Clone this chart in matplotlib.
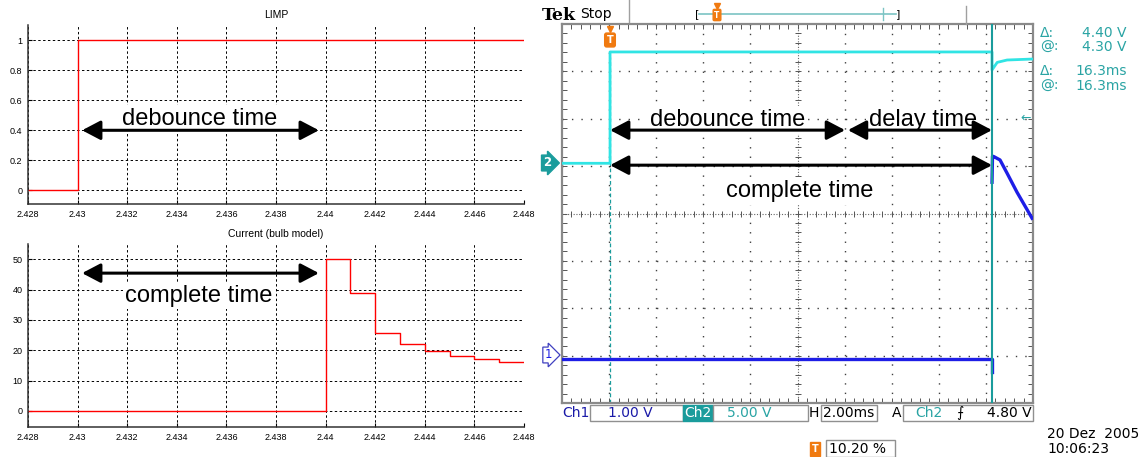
import numpy as np
import matplotlib
matplotlib.use("Agg")
import matplotlib.pyplot as plt
from matplotlib.patches import Rectangle, ArrowStyle

# ---------------------------------------------------------------------------
# Simulation (left): LIMP input and lamp current (bulb model)
# ---------------------------------------------------------------------------
x_ticks = [2.428, 2.430, 2.432, 2.434, 2.436, 2.438, 2.440, 2.442, 2.444, 2.446, 2.448]
x_labels = ["2.428", "2.43", "2.432", "2.434", "2.436", "2.438", "2.44",
            "2.442", "2.444", "2.446", "2.448"]

limp_t = [2.428, 2.430, 2.448]
limp_v = [0, 1, 1]
limp_yticks = [0, 0.2, 0.4, 0.6, 0.8, 1]
limp_ylabels = ["0", "0.2", "0.4", "0.6", "0.8", "1"]

cur_t = [2.428, 2.440, 2.441, 2.442, 2.443, 2.444, 2.445, 2.446, 2.447, 2.448]
cur_v = [0, 50, 39.0, 25.7, 21.9, 19.7, 18.2, 17.1, 16.0, 16.0]
cur_yticks = [0, 10, 20, 30, 40, 50]

# ---------------------------------------------------------------------------
# Oscilloscope capture (right), in screen divisions (10 x 8)
# ---------------------------------------------------------------------------
ch2_t = [0, 1.02, 1.02, 9.13, 9.13, 9.24, 9.45, 9.98]
ch2_v = [5.06, 5.06, 7.41, 7.41, 7.03, 7.19, 7.24, 7.26]
# Ch1 before the relay switches, and the lamp current decay after it
ch1_pre_t = [0, 9.13, 9.13]
ch1_pre_v = [0.93, 0.93, 0.65]
ch1_post_t = [9.13, 9.14, 9.17, 9.30, 9.45, 9.66, 9.98]
ch1_post_v = [4.66, 5.21, 5.20, 5.13, 4.85, 4.45, 3.90]
trig_x = 1.02
cursor_x = 9.13

readouts = [("Δ:", "4.40 V"), ("@:", "4.30 V"), ("Δ:", "16.3ms"), ("@:", "16.3ms")]

W, H = 1146, 457
CYAN = "#30E4E4"
BLUE = "#1E1EE6"
TEAL = "#1A9C9C"
TEAL_TXT = "#2AA4A4"
ORANGE = "#F07A10"
SANS = "Liberation Sans"
TEK = "DejaVu Sans"

fig = plt.figure(figsize=(W / 100, H / 100), dpi=100)


def px_axes(left, top, right, bottom):
    return fig.add_axes([left / W, 1 - bottom / H, (right - left) / W, (bottom - top) / H])


def sim_axes(ax, yticks, ylabels, ylim, title):
    ax.set_xlim(2.428, 2.448)
    ax.set_ylim(*ylim)
    ax.set_xticks(x_ticks)
    ax.set_xticklabels(x_labels)
    ax.set_yticks(yticks)
    ax.set_yticklabels(ylabels)
    for s in ("top", "right"):
        ax.spines[s].set_visible(False)
    for s in ("left", "bottom"):
        ax.spines[s].set_linewidth(1.1)
        ax.spines[s].set_color("#333333")
    ax.tick_params(direction="in", length=3, labelsize=6.5, pad=4)
    for lab in ax.get_xticklabels() + ax.get_yticklabels():
        lab.set_family(SANS)
    ax.grid(True, color="black", linestyle=(0, (2.5, 2.5)), linewidth=0.7)
    ax.set_axisbelow(True)
    ax.set_title(title, fontsize=7.5, family=SANS, pad=5)


def double_arrow(ax, x0, x1, y, lw=2.2):
    ax.annotate("", xy=(x0, y), xytext=(x1, y),
                arrowprops=dict(arrowstyle=ArrowStyle("<|-|>", head_length=0.8, head_width=0.42),
                                lw=lw, color="black", shrinkA=0, shrinkB=0,
                                mutation_scale=14), zorder=6)


def label(ax, x, y, s):
    ax.text(x, y, s, ha="center", va="center", fontsize=17, family=SANS, zorder=5,
            bbox=dict(facecolor="white", edgecolor="none", pad=2))


# --- LIMP ---
ax1 = px_axes(28, 25, 524, 204)
ax1.plot(limp_t, limp_v, drawstyle="steps-post", color="red", lw=1)
sim_axes(ax1, limp_yticks, limp_ylabels, (-0.09, 1.1), "LIMP")
label(ax1, 2.43494, 0.478, "debounce time")
double_arrow(ax1, 2.43018, 2.43973, 0.40)

# --- Current ---
ax2 = px_axes(28, 244, 524, 427)
ax2.plot(cur_t, cur_v, drawstyle="steps-post", color="red", lw=1)
sim_axes(ax2, cur_yticks, [str(v) for v in cur_yticks], (-5.3, 55), "Current (bulb model)")
label(ax2, 2.4349, 38.0, "complete time")
double_arrow(ax2, 2.43018, 2.43973, 45.4)

# --- Scope screen ---
ax3 = px_axes(562, 24, 1033, 403)
ax3.set_xlim(0, 10)
ax3.set_ylim(0, 8)
ax3.set_xticks([])
ax3.set_yticks([])
for s in ax3.spines.values():
    s.set_color("#8a8a8a")
    s.set_linewidth(1.6)
dots = (0, (1.0, 5.8))
for gx in range(1, 10):
    if gx != 5:
        ax3.axvline(gx, color="#404040", lw=1.0, linestyle=dots, zorder=1)
for gy in range(1, 8):
    if gy != 4:
        ax3.axhline(gy, color="#404040", lw=1.0, linestyle=dots, zorder=1)
ax3.axvline(5, color="#666666", lw=0.8, linestyle=(0, (1, 1.5)), zorder=1)
ax3.axhline(4, color="#666666", lw=0.8, linestyle=(0, (1, 1.5)), zorder=1)
tx = np.arange(0, 10.01, 0.2)
ty = np.arange(0, 8.01, 0.2)
ax3.plot(tx, np.full_like(tx, 4), "|", color="#555555", ms=4, mew=0.7, zorder=1)
ax3.plot(np.full_like(ty, 5), ty, "_", color="#555555", ms=4, mew=0.7, zorder=1)
ax3.plot(tx, np.full_like(tx, 0.05), "|", color="#555555", ms=4, mew=0.7, zorder=1)
ax3.plot(tx, np.full_like(tx, 7.95), "|", color="#555555", ms=4, mew=0.7, zorder=1)
ax3.plot(np.full_like(ty, 0.04), ty, "_", color="#555555", ms=4, mew=0.7, zorder=1)
ax3.plot(np.full_like(ty, 9.96), ty, "_", color="#555555", ms=4, mew=0.7, zorder=1)

ax3.axvline(trig_x, ymax=7.3 / 8, color=TEAL, lw=0.9, linestyle=(0, (3, 2)), zorder=2)
ax3.plot(ch2_t, ch2_v, color=CYAN, lw=2.0, zorder=3)
ax3.plot(ch1_pre_t, ch1_pre_v, color=BLUE, lw=2.4, zorder=3)
ax3.plot(ch1_post_t, ch1_post_v, color=BLUE, lw=2.4, zorder=3)
ax3.axvline(cursor_x, color=TEAL, lw=1.5, zorder=4)

label(ax3, 3.51, 5.97, "debounce time")
label(ax3, 7.67, 5.97, "delay time")
label(ax3, 5.05, 4.47, "complete time")
double_arrow(ax3, trig_x, 6.01, 5.76)
double_arrow(ax3, 6.07, cursor_x, 5.76)
double_arrow(ax3, trig_x, cursor_x, 5.02)

# --- overlay for the scope's header / status texts ---
ov = fig.add_axes([0, 0, 1, 1], zorder=10)
ov.set_xlim(0, W)
ov.set_ylim(H, 0)
ov.axis("off")
ov.patch.set_alpha(0)

ov.text(542, 15, "Tek", fontsize=12.5, family="DejaVu Serif", weight="bold", va="center")
ov.text(580, 14, "Stop", fontsize=10, family=TEK, va="center")
ov.plot([629, 629], [0, 22], color="#a0a0a0", lw=1)
ov.plot([966, 966], [6, 24], color="#a0a0a0", lw=1)
ov.plot([699, 896], [14, 14], color="#7cc4c4", lw=1.2)
ov.text(697, 14, "[", fontsize=8, family=TEK, va="center", ha="center")
ov.text(898, 14, "]", fontsize=8, family=TEK, va="center", ha="center")
ov.plot([883, 883], [8, 20], color="#7cc4c4", lw=1)
ov.text(717, 15, "T", fontsize=5.5, color="white", weight="bold", family=TEK, ha="center", va="center",
        bbox=dict(boxstyle="round,pad=0.15", fc=ORANGE, ec=ORANGE))
ov.plot([717], [6], marker="v", color=ORANGE, ms=4)

# trigger marker on screen
ov.plot([610], [29], marker="v", color=ORANGE, ms=5)
ov.text(610, 40, "T", fontsize=7, color="white", weight="bold", family=TEK, ha="center", va="center",
        bbox=dict(boxstyle="round,pad=0.2", fc=ORANGE, ec=ORANGE))

# channel markers
ov.text(547, 163, "2", fontsize=8.5, color="white", weight="bold", family=TEK, ha="center", va="center",
        bbox=dict(boxstyle="rarrow,pad=0.12", fc=TEAL, ec=TEAL))
ov.text(548, 355, "1", fontsize=8.5, color=BLUE, family=TEK, ha="center", va="center",
        bbox=dict(boxstyle="rarrow,pad=0.12", fc="white", ec="#4040c0", lw=0.9))
ov.text(1026, 118, "←", fontsize=9, color=TEAL_TXT, family=TEK, ha="center", va="center")

# cursor readouts
for i, (a, b) in enumerate(readouts):
    y = [33, 47, 71, 86][i]
    ov.text(1040, y, a, fontsize=10, color=TEAL_TXT, family=TEK, va="center")
    ov.text(1127, y, b, fontsize=10, color=TEAL_TXT, family=TEK, va="center", ha="right")


# status line
def box(x0, y0, x1, y1, fc="white", ec="#909090"):
    ov.add_patch(Rectangle((x0, y0), x1 - x0, y1 - y0, fc=fc, ec=ec, lw=1))


ov.text(562, 413, "Ch1", fontsize=10, color="#1a1aa8", family=TEK, va="center")
box(590, 405, 683, 421)
ov.text(608, 413, "1.00 V", fontsize=10, color="#1a1aa8", family=TEK, va="center")
box(683, 405, 713, 421, fc=TEAL, ec=TEAL)
ov.text(698, 413, "Ch2", fontsize=10, color="white", family=TEK, va="center", ha="center")
box(713, 405, 808, 421)
ov.text(727, 413, "5.00 V", fontsize=10, color=TEAL_TXT, family=TEK, va="center")
ov.text(809, 413, "H", fontsize=10, color="black", family=TEK, va="center")
box(821, 405, 877, 421)
ov.text(823, 413, "2.00ms", fontsize=10, color="black", family=TEK, va="center")
ov.text(892, 413, "A", fontsize=10, color="black", family=TEK, va="center")
box(903, 405, 1033, 421)
ov.text(915, 413, "Ch2", fontsize=10, color=TEAL_TXT, family=TEK, va="center")
ov.text(956, 413, "⨍", fontsize=10, color="black", family=TEK, va="center")
ov.text(1032, 413, "4.80 V", fontsize=10, color="black", family=TEK, va="center", ha="right")

ov.text(815, 449, "T", fontsize=7, color="white", weight="bold", family=TEK, ha="center", va="center",
        bbox=dict(boxstyle="square,pad=0.2", fc=ORANGE, ec=ORANGE))
box(826, 440, 895, 457)
ov.text(829, 449, "10.20 %", fontsize=10, color="black", family=TEK, va="center")

ov.text(1047, 434, "20 Dez  2005", fontsize=10, color="black", family=TEK, va="center")
ov.text(1047, 449, "10:06:23", fontsize=10, color="black", family=TEK, va="center")

fig.savefig("out.png", dpi=100)
